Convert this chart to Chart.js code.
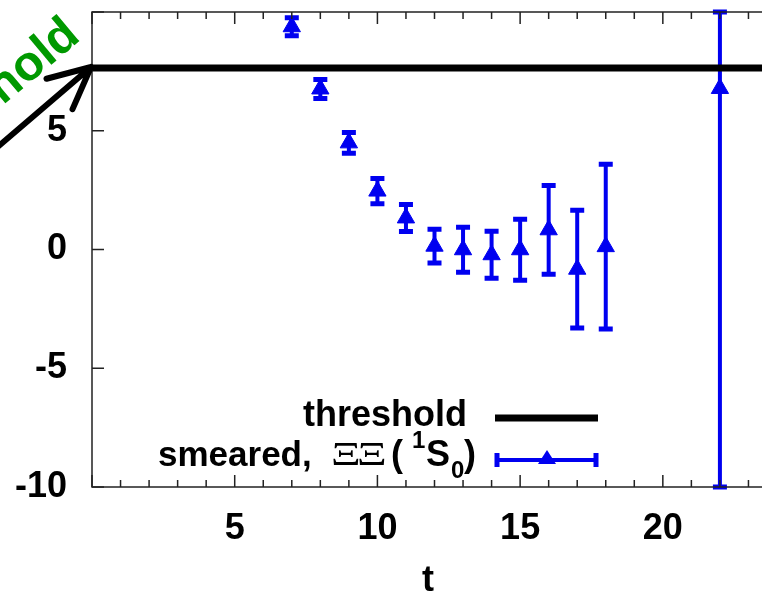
<!DOCTYPE html>
<html>
<head>
<meta charset="utf-8">
<script src="https://cdn.jsdelivr.net/npm/chart.js@4.4.1/dist/chart.umd.min.js"></script>
<style>
  html, body { margin: 0; padding: 0; overflow: hidden; background: #fff; width: 762px; height: 593px; }
  #wrap { width: 800px; height: 593px; }
</style>
</head>
<body>
<div id="wrap"><canvas id="chart" width="800" height="593"></canvas></div>
<script>
// values
const tValues = [7, 8, 9, 10, 11, 12, 13, 14, 15, 16, 17, 18, 22];
const yValues = [9.38, 6.76, 4.49, 2.46, 1.33, 0.14, -0.01, -0.22, -0.01, 0.83, -0.83, 0.12, 6.78];
const yErrors = [0.38, 0.40, 0.44, 0.53, 0.57, 0.71, 0.95, 0.99, 1.28, 1.87, 2.48, 3.47, 16.8];
const thresholdValue = 7.64;
const xRange = [0, 24];
const yRange = [-10, 10];
const xTickLabels = [5, 10, 15, 20];
const yTickLabels = [-10, -5, 0, 5];

const BLUE = "#0000f0";
const GREEN = "#009900";
const FONT = '"Liberation Sans", Arial, sans-serif';
const FS = 36;

// error bars, clipped to the plot range like gnuplot does
const errorBars = {
  id: "errorBars",
  beforeDatasetsDraw(chart) {
    const { ctx, scales: { x, y } } = chart;
    ctx.save();
    ctx.strokeStyle = BLUE;
    tValues.forEach((t, i) => {
      const px = x.getPixelForValue(t);
      const lo = Math.max(yValues[i] - yErrors[i], yRange[0]);
      const hi = Math.min(yValues[i] + yErrors[i], yRange[1]);
      const pLo = y.getPixelForValue(lo);
      const pHi = y.getPixelForValue(hi);
      ctx.lineWidth = 4;
      ctx.beginPath();
      ctx.moveTo(px, pLo);
      ctx.lineTo(px, pHi);
      ctx.stroke();
      ctx.lineWidth = 5;
      ctx.beginPath();
      ctx.moveTo(px - 7, pLo); ctx.lineTo(px + 7, pLo);
      ctx.moveTo(px - 7, pHi); ctx.lineTo(px + 7, pHi);
      ctx.stroke();
    });
    ctx.restore();
  }
};

// border with inward ticks on all four sides
const frame = {
  id: "frame",
  afterDraw(chart) {
    const { ctx, chartArea: a, scales: { x, y } } = chart;
    ctx.save();
    ctx.strokeStyle = "#222";
    ctx.lineWidth = 1.5;
    ctx.strokeRect(a.left, a.top, a.right - a.left, a.bottom - a.top);
    ctx.beginPath();
    for (let v = xRange[0]; v <= xRange[1]; v++) {
      const px = x.getPixelForValue(v);
      const len = v % 5 === 0 ? 12 : 7;
      ctx.moveTo(px, a.bottom); ctx.lineTo(px, a.bottom - len);
      ctx.moveTo(px, a.top); ctx.lineTo(px, a.top + len);
    }
    for (let v = yRange[0]; v <= yRange[1]; v += 5) {
      const py = y.getPixelForValue(v);
      ctx.moveTo(a.left, py); ctx.lineTo(a.left + 12, py);
      ctx.moveTo(a.right, py); ctx.lineTo(a.right - 12, py);
    }
    ctx.stroke();
    ctx.restore();
  }
};

// key, axis title and the arrow note
const extras = {
  id: "extras",
  afterDraw(chart) {
    const ctx = chart.ctx;
    ctx.save();
    ctx.fillStyle = "#000";
    ctx.textBaseline = "alphabetic";
    const bold = s => "bold " + s + "px " + FONT;

    // x title
    ctx.font = bold(FS);
    ctx.textAlign = "center";
    ctx.fillText("t", 428, 591);

    // key row 1
    ctx.textAlign = "right";
    ctx.fillText("threshold", 467, 426);
    ctx.strokeStyle = "#000";
    ctx.lineWidth = 7;
    ctx.beginPath(); ctx.moveTo(495, 418); ctx.lineTo(598, 418); ctx.stroke();

    // key row 2: smeared, ΞΞ (¹S₀)
    ctx.textAlign = "left";
    const base = 466;
    const runs = [
      { s: "smeared,", f: bold(35), x: 158, dy: 0 },
      { s: "(", f: bold(FS), x: 391, dy: 0 },
      { s: "1", f: bold(24), x: 412, dy: -18 },
      { s: "S", f: bold(FS), x: 426, dy: 0 },
      { s: "0", f: bold(24), x: 451, dy: 12 },
      { s: ")", f: bold(FS), x: 464, dy: 0 }
    ];
    runs.forEach(r => {
      ctx.font = r.f;
      ctx.fillText(r.s, r.x, base + r.dy);
    });
    // the two Xi letters are wide and thin in the key
    ctx.font = '33px "Liberation Serif", "DejaVu Serif", serif';
    [331, 357].forEach(x0 => {
      ctx.save();
      ctx.translate(x0, base - 1);
      ctx.scale(1.4, 1);
      ctx.fillText("Ξ", 0, 0);
      ctx.restore();
    });
    ctx.strokeStyle = BLUE;
    ctx.lineWidth = 4;
    ctx.beginPath(); ctx.moveTo(495, 460); ctx.lineTo(598, 460); ctx.stroke();
    ctx.lineWidth = 5;
    ctx.beginPath();
    ctx.moveTo(497, 453); ctx.lineTo(497, 467);
    ctx.moveTo(596, 453); ctx.lineTo(596, 467);
    ctx.stroke();
    ctx.fillStyle = BLUE;
    ctx.beginPath();
    ctx.moveTo(547, 450); ctx.lineTo(556, 464); ctx.lineTo(538, 464); ctx.closePath();
    ctx.fill();

    // rotated green label
    ctx.save();
    ctx.translate(82, 39);
    ctx.rotate(-40 * Math.PI / 180);
    ctx.fillStyle = GREEN;
    ctx.font = bold(49);
    ctx.textAlign = "right";
    ctx.fillText("threshold", 0, 0);
    ctx.restore();

    // arrow to the threshold line
    const tip = [91, 67];
    const tail = [-6, 150];
    const ang = Math.atan2(tip[1] - tail[1], tip[0] - tail[0]);
    ctx.strokeStyle = "#000";
    ctx.lineWidth = 6;
    ctx.lineCap = "round";
    ctx.beginPath();
    ctx.moveTo(tail[0], tail[1]); ctx.lineTo(tip[0], tip[1]);
    [-0.45, 0.45].forEach(d => {
      ctx.moveTo(tip[0], tip[1]);
      ctx.lineTo(tip[0] - 46 * Math.cos(ang + d), tip[1] - 46 * Math.sin(ang + d));
    });
    ctx.stroke();
    ctx.restore();
  }
};

new Chart(document.getElementById("chart"), {
  type: "scatter",
  data: {
    datasets: [
      {
        label: "threshold",
        type: "line",
        data: xRange.map(v => ({ x: v, y: thresholdValue })),
        borderColor: "#000",
        borderWidth: 7,
        pointRadius: 0
      },
      {
        label: "smeared, ΞΞ (1S0)",
        data: tValues.map((t, i) => ({ x: t, y: yValues[i] })),
        pointStyle: "triangle",
        radius: 10,
        backgroundColor: BLUE,
        borderColor: BLUE,
        borderWidth: 1
      }
    ]
  },
  options: {
    responsive: false,
    animation: false,
    layout: { padding: { top: 12, right: 23, left: 0, bottom: 0 } },
    plugins: { legend: { display: false }, tooltip: { enabled: false } },
    scales: {
      x: {
        type: "linear",
        min: xRange[0],
        max: xRange[1],
        afterFit: s => { s.height = 106; s.paddingLeft = 0; s.paddingRight = 0; },
        grid: { display: false, drawTicks: false },
        border: { display: false },
        ticks: {
          stepSize: 5,
          padding: 20,
          autoSkip: false,
          maxRotation: 0,
          color: "#000",
          font: { family: FONT, size: FS, weight: "bold" },
          callback: v => xTickLabels.includes(v) ? String(v) : ""
        }
      },
      y: {
        min: yRange[0],
        max: yRange[1],
        afterFit: s => { s.width = 92; s.paddingTop = 0; s.paddingBottom = 0; },
        grid: { display: false, drawTicks: false },
        border: { display: false },
        ticks: {
          stepSize: 5,
          padding: 25,
          autoSkip: false,
          color: "#000",
          font: { family: FONT, size: FS, weight: "bold" },
          callback: v => yTickLabels.includes(v) ? String(v) : ""
        }
      }
    }
  },
  plugins: [errorBars, frame, extras]
});
</script>
</body>
</html>
